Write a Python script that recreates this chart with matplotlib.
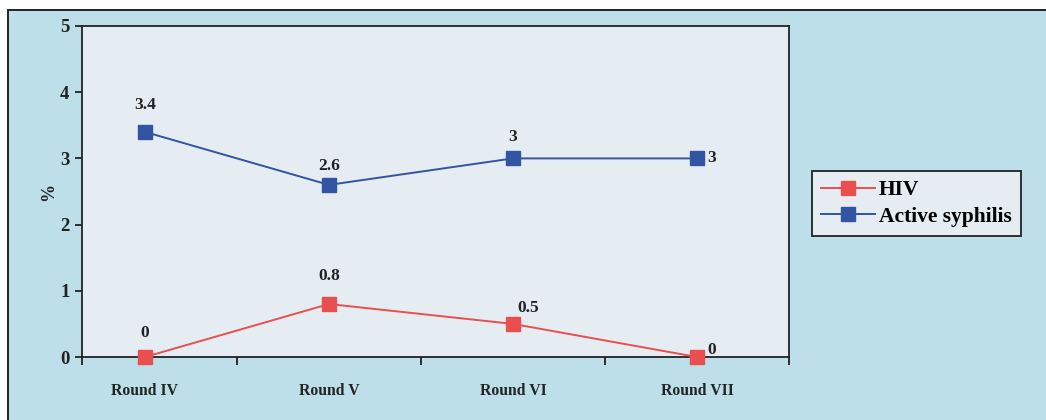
import matplotlib
matplotlib.use("Agg")
import matplotlib.pyplot as plt
from matplotlib.patches import Rectangle
from matplotlib.ticker import FixedLocator

rounds = ["Round IV", "Round V", "Round VI", "Round VII"]
hiv = [0, 0.8, 0.5, 0]
syphilis = [3.4, 2.6, 3, 3]
series_names = ["HIV", "Active syphilis"]

# label offsets in pixels (dx, dy) for each point label
hiv_offsets = [(0, 24), (0, 28), (15, 16), (15, 7)]
syph_offsets = [(0, 27), (0, 19), (0, 21), (15, 0)]

BG_OUT = "#bddfe9"
BG_IN = "#e5edf3"
RED = "#e94f4f"
BLUE = "#3353a3"
DARK = "#222222"
SERIF = ["Liberation Serif", "DejaVu Serif"]

W, H = 1046, 420
fig = plt.figure(figsize=(W / 100, H / 100), dpi=100, facecolor="white")

# framed chart area
frame_ax = fig.add_axes([0, 0, 1, 1], zorder=0)
frame_ax.set_axis_off()
frame_ax.set_xlim(0, 1)
frame_ax.set_ylim(0, 1)
frame_ax.add_patch(Rectangle((8 / W, -0.2), 1.2, 1 - 10 / H + 0.2,
                             facecolor=BG_OUT, edgecolor=DARK,
                             linewidth=1.4, clip_on=False))

ax = fig.add_axes([82 / W, 1 - 357 / H, 707 / W, 331 / H], zorder=2)
ax.set_facecolor(BG_IN)
for s in ax.spines.values():
    s.set_color(DARK)
    s.set_linewidth(1.3)

x = list(range(len(rounds)))
l1, = ax.plot(x, hiv, color=RED, lw=1.4, marker="s", ms=9.5,
              mfc=RED, mec=RED, clip_on=False, zorder=3)
l2, = ax.plot(x, syphilis, color=BLUE, lw=1.4, marker="s", ms=9.5,
              mfc=BLUE, mec=BLUE, clip_on=False, zorder=3)

ax.set_xlim(-0.342, 3.5)
ax.set_ylim(0, 5)
ax.set_yticks([0, 1, 2, 3, 4, 5])
ax.set_xticks(x)
ax.set_xticklabels(rounds)
ax.xaxis.set_minor_locator(FixedLocator([-0.342, 0.5, 1.5, 2.5, 3.5]))
ax.tick_params(axis="x", which="major", length=0, pad=19)
ax.tick_params(axis="x", which="minor", length=6, width=1.3, direction="out", color=DARK)
ax.tick_params(axis="y", length=5, width=1.3, direction="out", color=DARK, pad=4)
for lab in ax.get_xticklabels():
    lab.set_fontfamily(SERIF)
    lab.set_fontweight("bold")
    lab.set_fontsize(11.3)
    lab.set_color(DARK)
for lab in ax.get_yticklabels():
    lab.set_fontfamily(SERIF)
    lab.set_fontweight("bold")
    lab.set_fontsize(13.5)
    lab.set_color(DARK)

ax.set_ylabel("%", fontfamily=SERIF, fontweight="bold", fontsize=13,
              color=DARK, labelpad=2)


def label_points(vals, offsets):
    for xi, v, (dx, dy) in zip(x, vals, offsets):
        ax.annotate(f"{v:g}", (xi, v), xytext=(dx * 0.72, dy * 0.72),
                    textcoords="offset points", ha="center", va="center",
                    fontfamily=SERIF, fontweight="bold", fontsize=12.5,
                    color=DARK, annotation_clip=False)


label_points(hiv, hiv_offsets)
label_points(syphilis, syph_offsets)

leg = fig.legend([l1, l2], series_names, loc="upper left",
                 bbox_to_anchor=(812 / W, 1 - 171 / H),
                 frameon=True, fancybox=False, markerscale=1.1,
                 prop={"family": SERIF, "weight": "bold", "size": 15.5},
                 handlelength=2.5, handletextpad=0.2, borderpad=0.42,
                 labelspacing=0.3, borderaxespad=0)
leg.set_zorder(5)
leg.get_frame().set_facecolor(BG_IN)
leg.get_frame().set_edgecolor(DARK)
leg.get_frame().set_linewidth(1.3)
leg.get_frame().set_alpha(1)

fig.savefig("out.png", dpi=100, facecolor=fig.get_facecolor())
